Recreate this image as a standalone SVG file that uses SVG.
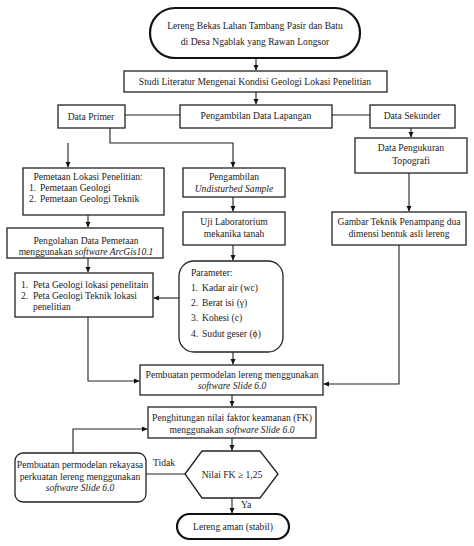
<svg xmlns="http://www.w3.org/2000/svg" width="474" height="546" viewBox="0 0 474 546" font-family="'Liberation Serif', 'Times New Roman', serif">
<defs>
<style>
.b{fill:#fff;stroke:#222;stroke-width:1.3}
.t{fill:#fff;stroke:#111;stroke-width:2.2}
.c{fill:none;stroke:#222;stroke-width:1.1}
text{font-family:"Liberation Serif","Times New Roman",serif;font-size:9.6px;fill:#222}
.m{text-anchor:middle}
.i{font-style:italic}
</style>
<marker id="ah" markerWidth="6" markerHeight="6" refX="5" refY="3" orient="auto" markerUnits="userSpaceOnUse">
<path d="M0,0.5 L5.5,3 L0,5.5 Z" fill="#111"/>
</marker>
</defs>
<rect width="474" height="546" fill="#fff"/>
<g id="connectors">
<path class="c" d="M256,58 V70" marker-end="url(#ah)"/>
<path class="c" d="M256,92 V104" marker-end="url(#ah)"/>
<path class="c" d="M125,115 H180"/>
<path class="c" d="M332,115 H370"/>
<path class="c" d="M110,128 V143 H233 V167" marker-end="url(#ah)"/>
<path class="c" d="M68,143 V167" marker-end="url(#ah)"/>
<path class="c" d="M411,128 V137" marker-end="url(#ah)"/>
<path class="c" d="M409,173 V211" marker-end="url(#ah)"/>
<path class="c" d="M88,215 V227" marker-end="url(#ah)"/>
<path class="c" d="M88,258 V272" marker-end="url(#ah)"/>
<path class="c" d="M233,197 V211" marker-end="url(#ah)"/>
<path class="c" d="M233,245 V260" marker-end="url(#ah)"/>
<path class="c" d="M179,298 H154" marker-end="url(#ah)"/>
<path class="c" d="M88,317 V381 H139" marker-end="url(#ah)"/>
<path class="c" d="M233,352 V364" marker-end="url(#ah)"/>
<path class="c" d="M399,245 V384 H324" marker-end="url(#ah)"/>
<path class="c" d="M232,395 V406" marker-end="url(#ah)"/>
<path class="c" d="M73,453 V429 H147" marker-end="url(#ah)"/>
<path class="c" d="M232,438 V450" marker-end="url(#ah)"/>
<path class="c" d="M185,474 H146"/>
<path class="c" d="M232,498 V513" marker-end="url(#ah)"/>
<text x="153" y="466">Tidak</text>
<text x="241" y="508">Ya</text>
</g>
<g id="n-start">
<rect class="t" x="150" y="8" width="210" height="50" rx="25" ry="25"/>
<text class="m" x="255" y="29">Lereng Bekas Lahan Tambang Pasir dan Batu</text>
<text class="m" x="255" y="45">di Desa Ngablak yang Rawan Longsor</text>
</g>
<g id="n-studi">
<rect class="b" x="124" y="71" width="263" height="21"/>
<text class="m" x="255" y="85">Studi Literatur Mengenai Kondisi Geologi Lokasi Penelitian</text>
</g>
<g id="n-primer">
<rect class="b" x="58" y="105" width="67" height="23"/>
<text class="m" x="91" y="120">Data Primer</text>
</g>
<g id="n-lapangan">
<rect class="b" x="180" y="105" width="152" height="23"/>
<text class="m" x="256" y="119">Pengambilan Data Lapangan</text>
</g>
<g id="n-sekunder">
<rect class="b" x="370" y="105" width="85" height="23"/>
<text class="m" x="412" y="119">Data Sekunder</text>
</g>
<g id="n-topografi">
<rect class="b" x="355" y="138" width="112" height="35"/>
<text class="m" x="411" y="151">Data Pengukuran</text>
<text class="m" x="411" y="164">Topografi</text>
</g>
<g id="n-pemetaan">
<rect class="b" x="23" y="168" width="141" height="47"/>
<text class="m" x="88" y="180">Pemetaan Lokasi Penelitian:</text>
<text x="29" y="191">1.</text><text x="40" y="191">Pemetaan Geologi</text>
<text x="29" y="202">2.</text><text x="40" y="202">Pemetaan Geologi Teknik</text>
</g>
<g id="n-sample">
<rect class="b" x="183" y="168" width="102" height="29"/>
<text class="m" x="234" y="180">Pengambilan</text>
<text class="m i" x="234" y="192">Undisturbed Sample</text>
</g>
<g id="n-uji">
<rect class="b" x="183" y="212" width="102" height="33"/>
<text class="m" x="234" y="225">Uji Laboratorium</text>
<text class="m" x="234" y="237">mekanika tanah</text>
</g>
<g id="n-gambar">
<rect class="b" x="332" y="212" width="134" height="33"/>
<text class="m" x="399" y="225">Gambar Teknik Penampang dua</text>
<text class="m" x="399" y="237">dimensi bentuk asli lereng</text>
</g>
<g id="n-pengolahan">
<rect class="b" x="7" y="228" width="156" height="30"/>
<text class="m" x="86" y="244">Pengolahan Data Pemetaan</text>
<text class="m" x="86" y="255">menggunakan <tspan class="i">software ArcGis10.1</tspan></text>
</g>
<g id="n-peta">
<rect class="b" x="15" y="273" width="138" height="44"/>
<text x="21" y="288">1.</text><text x="33" y="288">Peta Geologi lokasi penelitain</text>
<text x="21" y="299">2.</text><text x="33" y="299">Peta Geologi Teknik lokasi</text>
<text x="33" y="310">penelitian</text>
</g>
<g id="n-parameter">
<rect class="b" x="179" y="261" width="104" height="91" rx="15" ry="15"/>
<text x="191" y="276">Parameter:</text>
<text x="191" y="291">1.</text><text x="202" y="291">Kadar air (wc)</text>
<text x="191" y="306">2.</text><text x="202" y="306">Berat isi (γ)</text>
<text x="191" y="321">3.</text><text x="202" y="321">Kohesi (c)</text>
<text x="191" y="337">4.</text><text x="202" y="337">Sudut geser (ϕ)</text>
</g>
<g id="n-pembuatan">
<rect class="b" x="140" y="365" width="183" height="30"/>
<text class="m" x="232" y="378">Pembuatan permodelan lereng menggunakan</text>
<text class="m i" x="232" y="389">software Slide 6.0</text>
</g>
<g id="n-penghitungan">
<rect class="b" x="148" y="407" width="168" height="31"/>
<text class="m" x="232" y="421">Penghitungan nilai faktor keamanan (FK)</text>
<text class="m" x="232" y="433">menggunakan <tspan class="i">software Slide 6.0</tspan></text>
</g>
<g id="n-rekayasa">
<rect class="b" x="15" y="453" width="131" height="49" rx="8" ry="8"/>
<text class="m" x="80" y="468">Pembuatan permodelan rekayasa</text>
<text class="m" x="80" y="480">perkuatan lereng menggunakan</text>
<text class="m i" x="80" y="491">software Slide 6.0</text>
</g>
<g id="n-fk">
<polygon class="b" points="185,474 202,451 260,451 278,474 260,498 202,498"/>
<text class="m" x="232" y="478">Nilai FK ≥ 1,25</text>
</g>
<g id="n-aman">
<rect class="t" x="177" y="514" width="112" height="25" rx="12.5" ry="12.5"/>
<text class="m" x="233" y="530">Lereng aman (stabil)</text>
</g>
</svg>
